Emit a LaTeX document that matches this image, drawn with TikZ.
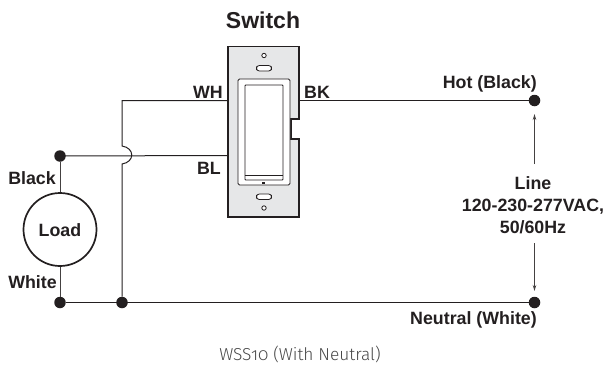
\documentclass[tikz,border=0pt]{standalone}
\usepackage{fontspec}
\setmainfont{Liberation Sans}
\newfontfamily\capfont[Numbers=OldStyle]{Fira Sans Light}
\definecolor{ink}{HTML}{231F20}
\definecolor{platefill}{HTML}{E6E7E8}
\tikzset{
  wire/.style={draw=ink,line width=1pt},
  lbltext/.style={font=\bfseries\fontsize{17.8}{22}\selectfont,text=ink,inner sep=0pt,align=center},
  junction/.style={circle,fill=ink,inner sep=0pt,minimum size=11.5pt},
  loadnode/.style={circle,draw=ink,line width=1.7pt,fill=white,minimum size=73pt,inner sep=0pt},
  tick/.style={draw=ink,line width=0.8pt,fill=white},
  volt/.style={draw=ink!85,line width=0.9pt,-{Stealth[length=6pt,width=3.5pt]}},
}
\usetikzlibrary{arrows.meta}
\begin{document}
\begin{tikzpicture}[x=1pt,y=-1pt]
\useasboundingbox (0,0) rectangle (605,367);
% plate
\draw[draw=ink,line width=1.9pt,fill=platefill] (228,46.5) -- (299,46.5) -- (299,119) -- (291,119) -- (291,139) -- (299,139) -- (299,217) -- (228,217) -- cycle;
\draw[tick,rounded corners=1.5pt,line width=0.9pt] (238,79) rectangle (290,185);
\draw[tick,rounded corners=0.8pt,line width=0.9pt] (245,85) rectangle (283,180);
\draw[draw=ink,line width=0.9pt] (245,175) -- (283,175);
\fill[ink] (262,181.5) rectangle (265,183.5);
\draw[tick] (264,55.5) circle (2.2);
\draw[tick] (264,208) circle (2.2);
\draw[tick,rounded corners=2.8pt] (256.5,65.5) rectangle (271.5,71);
\draw[tick,rounded corners=2.8pt] (256.5,194) rectangle (271.5,199.5);
% junctions and load
\node[junction] (dbl) at (60,156) {};
\node[junction] (dwh) at (60,302.5) {};
\node[junction] (dmid) at (122,302.5) {};
\node[junction] (dhot) at (534.5,100.5) {};
\node[junction] (dneu) at (534.5,302.5) {};
\node[loadnode] (load) at (60,229.5) {};
\node[font=\bfseries\fontsize{17.8}{20}\selectfont,text=ink,inner sep=0pt] (loadl) at (60,230) {Load};
\coordinate (whplate) at (228,100.5);
\coordinate (bkplate) at (299,100.5);
\coordinate (blplate) at (228,155.5);
\coordinate (wtop) at (122,100.5);
\coordinate (jtop) at (122,146);
\coordinate (jbot) at (122,164);
% wires
\draw[wire] (dhot) -- (bkplate);
\draw[wire] (whplate) -- (wtop) -- (jtop) .. controls (135,148) and (135,162) .. (jbot) -- (dmid);
\draw[wire] (dbl.center) -- (blplate);
\draw[wire] (dwh) -- (dneu);
\draw[wire,draw=ink!85] (dbl) -- (load);
\draw[wire,draw=ink!85] (load) -- (dwh);
% line arrows
\coordinate (a1s) at (534.5,164);
\coordinate (a1e) at (534.5,114);
\coordinate (a2s) at (534.5,243);
\coordinate (a2e) at (534.5,291);
\draw[volt] (a1s) -- (a1e);
\draw[volt] (a2s) -- (a2e);
% labels
\node[font=\bfseries\fontsize{23}{26}\selectfont,text=ink,inner sep=0pt] (sw) at (263,20.5) {Switch};
\node[lbltext] (wh) at (208,92) {WH};
\node[lbltext] (bk) at (317,92) {BK};
\node[lbltext] (bl) at (209,168) {BL};
\node[lbltext] (black) at (32,178) {Black};
\node[lbltext] (white) at (32.5,282) {White};
\node[lbltext,anchor=east] (hot) at (537,84) {Hot (Black)};
\node[lbltext] (line) at (533,205) {Line\\120-230-277VAC,\\50/60Hz};
\node[lbltext,anchor=east] (neu) at (537,320) {Neutral (White)};
\node[font=\capfont\fontsize{17.3}{20}\selectfont,text=black!72,inner sep=0pt] (cap) at (300,354) {WSS10 (With Neutral)};
\end{tikzpicture}
\end{document}
